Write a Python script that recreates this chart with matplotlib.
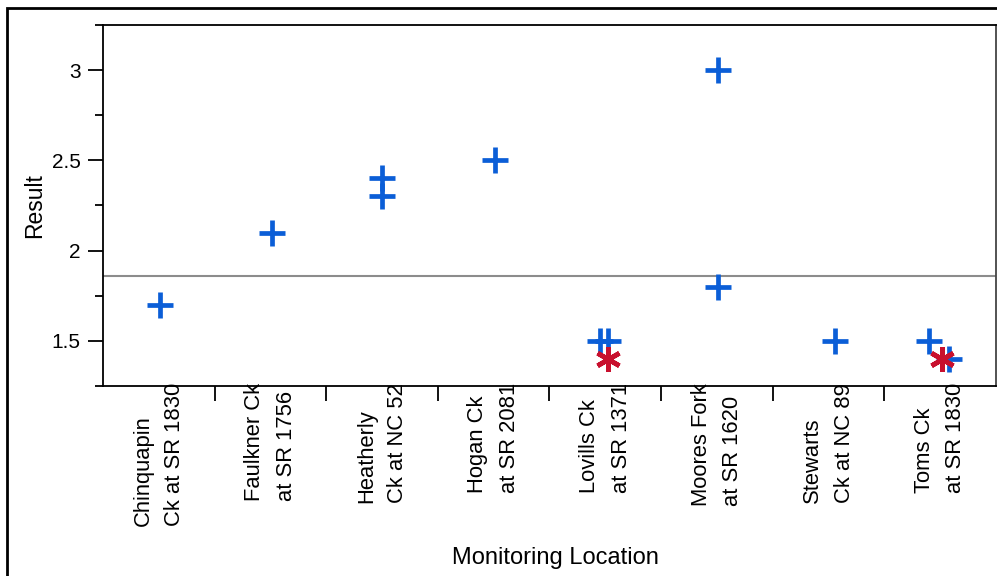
import numpy as np
import matplotlib
matplotlib.use('Agg')
import matplotlib.pyplot as plt
from matplotlib.patches import Rectangle
from matplotlib.ticker import MultipleLocator, FixedLocator

plt.rcParams['font.family'] = ['Liberation Sans', 'DejaVu Sans']

# data
locations = ['Chinquapin\nCk at SR 1830', 'Faulkner Ck\nat SR 1756', 'Heatherly\nCk at NC 52',
             'Hogan Ck\nat SR 2081', 'Lovills Ck\nat SR 1371', 'Moores Fork\nat SR 1620',
             'Stewarts\nCk at NC 89', 'Toms Ck\nat SR 1830']

# blue "+" results: location index, value, jitter
plus_loc = [0, 1, 2, 2, 3, 4, 4, 5, 5, 6, 7, 7]
plus_val = [1.7, 2.1, 2.4, 2.3, 2.5, 1.5, 1.5, 3.0, 1.8, 1.5, 1.5, 1.4]
plus_jit = [0.015, 0.015, 0.0, 0.0, 0.01, -0.045, 0.02, 0.01, 0.01, 0.06, -0.1, 0.08]

# red "*" results
star_loc = [4, 7]
star_val = [1.4, 1.4]
star_jit = [0.02, 0.02]

all_vals = plus_val + star_val
mean_val = np.mean(all_vals)

fig = plt.figure(figsize=(9.97, 5.76), dpi=100)
ax = fig.add_axes([0.1033, 0.3299, 0.8957, 0.6267])

ax.axhline(mean_val, color='#8c8c8c', lw=1.5, zorder=1)

ax.plot(np.array(plus_loc) + np.array(plus_jit), plus_val, ls='none', marker='+',
        ms=19, mew=3.4, color='#0b5ed7', zorder=3)
ax.plot(np.array(star_loc) + np.array(star_jit), star_val, ls='none', marker=(6, 2, 0),
        ms=18, mew=3.4, color='#c8102e', zorder=4)

ax.set_xlim(-0.5, len(locations) - 0.5)
ax.set_ylim(1.25, 3.25)

ax.yaxis.set_major_locator(FixedLocator([1.5, 2, 2.5, 3]))
ax.yaxis.set_minor_locator(MultipleLocator(0.25))
ax.set_yticklabels(['1.5', '2', '2.5', '3'])
ax.tick_params(axis='y', which='major', length=11, width=1.3, labelsize=15, pad=5)
ax.tick_params(axis='y', which='minor', length=6, width=1.3)

ax.set_xticks(np.arange(len(locations)))
ax.set_xticklabels(locations, rotation=90, ha='center', va='top', multialignment='left',
                   fontsize=15.8, linespacing=1.65)
ax.tick_params(axis='x', which='major', length=0, pad=-2)
ax.xaxis.set_minor_locator(FixedLocator(np.arange(0.5, len(locations) - 0.5, 1)))
ax.tick_params(axis='x', which='minor', length=11, width=1.3)

for s in ax.spines.values():
    s.set_linewidth(1.3)
ax.spines['right'].set_color('#444444')

ax.set_ylabel('Result', fontsize=16.5, labelpad=4)
ax.set_xlabel('Monitoring Location', fontsize=17, labelpad=12)
ax.xaxis.set_label_coords(0.507, -0.445)

# outer frame
fig.add_artist(Rectangle((7 / 997, -0.1), 1.2, 1 - 8 / 576 + 0.1, transform=fig.transFigure,
                         fill=False, lw=2, ec='black', clip_on=False))

fig.savefig('out.png', dpi=100)
